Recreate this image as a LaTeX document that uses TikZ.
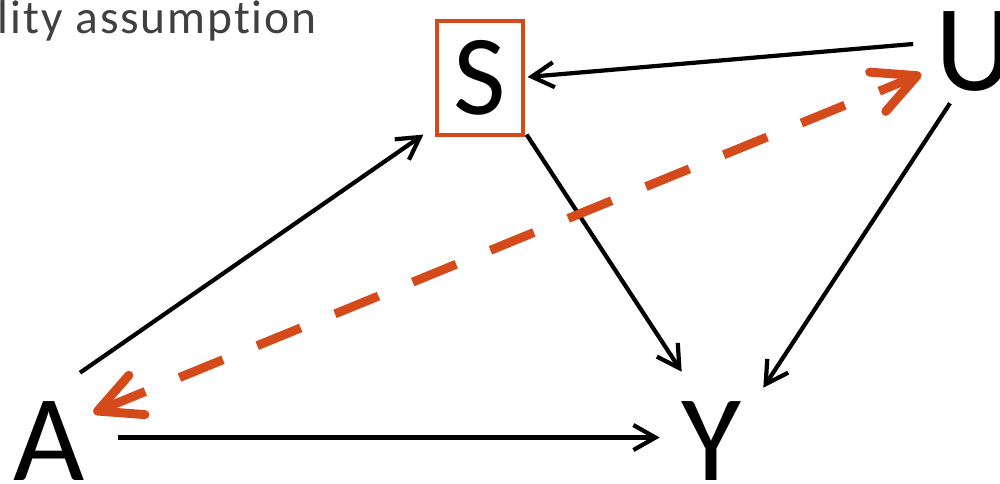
\documentclass[tikz,border=0pt]{standalone}
\usepackage{fontspec}
\setmainfont{Carlito}[Ligatures=NoCommon]
\usetikzlibrary{arrows.meta}

\definecolor{selred}{RGB}{212,74,26}
\definecolor{notegray}{RGB}{64,64,64}

\begin{document}
\begin{tikzpicture}[
  var/.style={inner sep=0pt, font=\fontsize{70}{70}\selectfont},
  selbox/.style={draw=selred, line width=1.8pt, inner sep=0pt, minimum width=1.72cm, minimum height=2.28cm, font=\fontsize{65}{65}\selectfont},
  edge/.style={-{Straight Barb[length=4.4mm, width=5mm]}, line width=2.4pt, draw=black},
  bias/.style={{Straight Barb[round, length=8.5mm, width=8.5mm]}-{Straight Barb[round, length=8.5mm, width=8.5mm]}, line width=5.1pt, draw=selred, dash pattern=on 9.4mm off 7.4mm}
]

\useasboundingbox (0,0) rectangle (20,-9.66);

\node[anchor=base east, inner sep=0pt, text=notegray, font=\fontsize{27}{30}\selectfont\addfontfeature{LetterSpace=4}] (note) at (6.34,-0.66) {lity assumption};

\node[selbox] (S) at (9.6,-1.56) {S};
\node[var, anchor=base] (U) at (19.5,-1.8) {U};
\node[var, anchor=base] (A) at (0.98,-9.6) {A};
\node[var, anchor=base] (Y) at (14.22,-9.6) {Y};

\draw[edge] ([xshift=6.2mm, yshift=5.6mm]A.north) -- ([xshift=-2.4mm, yshift=0.4mm]S.south west);
\draw[edge] ([xshift=0.4mm, yshift=0.4mm]S.south east) -- ([xshift=0.2mm, yshift=5.8mm]Y.north west);
\draw[edge] ([xshift=-5mm, yshift=-2.4mm]U.south) -- ([xshift=4.4mm, yshift=2.6mm]Y.north east);
\draw[edge] ([xshift=-4.4mm, yshift=1.4mm]U.west) -- ([xshift=0.6mm, yshift=0.2mm]S.east);
\draw[edge] ([xshift=6.7mm, yshift=0.6mm]A.east) -- ([xshift=-4.2mm, yshift=0.6mm]Y.west);

% confounding path
\draw[bias] ([xshift=1.7mm, yshift=-2.4mm]A.north east) -- ([xshift=-2.8mm, yshift=-4.6mm]U.west);

\end{tikzpicture}
\end{document}
